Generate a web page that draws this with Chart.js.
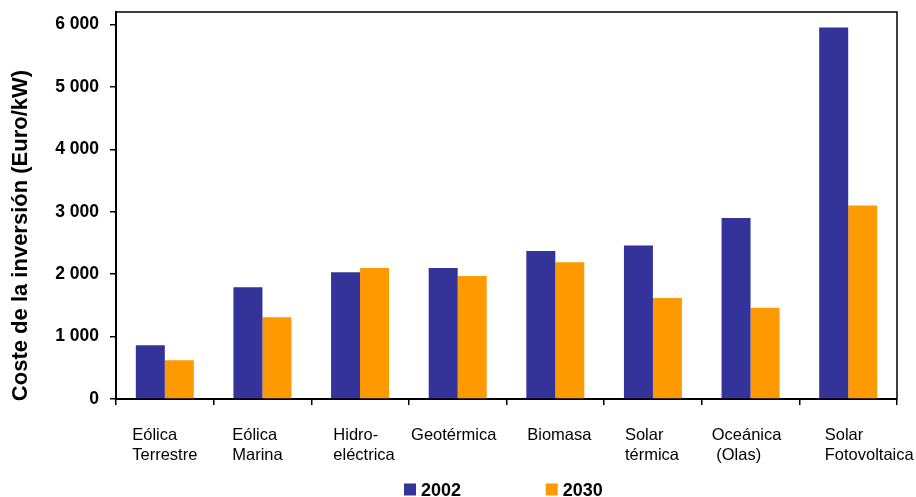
<!DOCTYPE html>
<html>
<head>
<meta charset="utf-8">
<script src="https://cdn.jsdelivr.net/npm/chart.js@4/dist/chart.umd.min.js"></script>
<style>
  html, body { margin: 0; padding: 0; background: #fff; }
  #wrap { width: 916px; height: 497px; }
</style>
</head>
<body>
<div id="wrap"><canvas id="c" width="916" height="497"></canvas></div>
<script>
// Categories (one array of text lines per technology)
const categories = [
  ['Eólica', 'Terrestre'],
  ['Eólica', 'Marina'],
  ['Hidro-', 'eléctrica'],
  ['Geotérmica'],
  ['Biomasa'],
  ['Solar', 'térmica'],
  ['Oceánica', ' (Olas)'],
  ['Solar', 'Fotovoltaica']
];

// Investment cost, Euro/kW
const values2002 = [860, 1790, 2030, 2100, 2370, 2460, 2900, 5950];
const values2030 = [620, 1310, 2100, 1970, 2190, 1620, 1460, 3100];

const seriesNames = ['2002', '2030'];
const yTickValues = [0, 1000, 2000, 3000, 4000, 5000, 6000];
const yTitle = 'Coste de la inversión (Euro/kW)';

const FONT = '"Liberation Sans", Arial, Helvetica, sans-serif';
const BLUE = '#333399';
const ORANGE = '#FF9900';

// horizontal nudge (px) of each category label block
const labelShift = [0, -5, 4, -4, 4, -1, -4, 21];

// thousands separated by a space: "6 000"
function fmt(v) {
  const s = String(v);
  return s.length > 3 ? s.slice(0, -3) + ' ' + s.slice(-3) : s;
}

const decorations = {
  id: 'decorations',
  afterDraw(chart) {
    const ctx = chart.ctx;
    const area = chart.chartArea;
    const xs = chart.scales.x;
    ctx.save();

    // top and right frame of the plot area
    ctx.strokeStyle = '#000';
    ctx.lineWidth = 1.5;
    ctx.beginPath();
    ctx.moveTo(area.left, area.top);
    ctx.lineTo(area.right, area.top);
    ctx.lineTo(area.right, area.bottom);
    ctx.stroke();

    // category labels: block centred on the category, lines left-aligned
    ctx.font = '16.5px ' + FONT;
    ctx.fillStyle = '#000';
    ctx.textAlign = 'left';
    ctx.textBaseline = 'alphabetic';
    chart.data.labels.forEach((lines, i) => {
      const cx = xs.getPixelForValue(i);
      const maxW = Math.max(...lines.map(l => ctx.measureText(l).width));
      const x0 = cx - maxW / 2 + (labelShift[i] || 0);
      lines.forEach((l, j) => ctx.fillText(l, x0, 439.5 + j * 20));
    });

    // y axis title
    ctx.font = 'bold 22px ' + FONT;
    ctx.textAlign = 'center';
    ctx.textBaseline = 'middle';
    ctx.translate(21, 235.5);
    ctx.rotate(-Math.PI / 2);
    ctx.fillText(yTitle, 0, 0);
    ctx.setTransform(1, 0, 0, 1, 0, 0);

    // legend
    ctx.font = 'bold 18px ' + FONT;
    ctx.textAlign = 'left';
    ctx.textBaseline = 'alphabetic';
    const startX = 404, pitch = 141.7;
    chart.data.datasets.forEach((ds, i) => {
      const bx = startX + i * pitch;
      ctx.fillStyle = ds.backgroundColor;
      ctx.fillRect(bx, 483.5, 12, 12);
      ctx.fillStyle = '#000';
      ctx.fillText(ds.label, bx + 17, 496);
    });
    ctx.restore();
  }
};

new Chart(document.getElementById('c'), {
  type: 'bar',
  data: {
    labels: categories,
    datasets: [
      { label: seriesNames[0], data: values2002, backgroundColor: BLUE },
      { label: seriesNames[1], data: values2030, backgroundColor: ORANGE }
    ]
  },
  options: {
    responsive: false,
    devicePixelRatio: 1,
    animation: false,
    events: [],
    layout: { padding: { top: 12, right: 19, left: 0, bottom: 0 } },
    datasets: {
      bar: { categoryPercentage: 0.594, barPercentage: 1.0, borderWidth: 0 }
    },
    plugins: {
      legend: { display: false },
      tooltip: { enabled: false },
      title: { display: false }
    },
    scales: {
      x: {
        type: 'category',
        offset: true,
        grid: {
          offset: true,
          drawOnChartArea: false,
          drawTicks: true,
          tickLength: 6,
          color: '#000',
          lineWidth: 1.5
        },
        border: { display: true, color: '#000', width: 2 },
        ticks: { display: false },
        afterFit(scale) {
          scale.height = 98;
          scale.paddingLeft = 0;
          scale.paddingRight = 0;
        }
      },
      y: {
        min: 0,
        max: 6200,
        afterBuildTicks(scale) {
          scale.ticks = yTickValues.map(v => ({ value: v }));
        },
        grid: {
          drawOnChartArea: false,
          drawTicks: true,
          tickLength: 6,
          color: '#000',
          lineWidth: 1.5
        },
        border: { display: true, color: '#000', width: 2 },
        ticks: {
          color: '#000',
          padding: 11,
          font: { family: FONT, size: 17.5, weight: 'bold' },
          callback: (v) => fmt(v)
        },
        afterFit(scale) {
          scale.width = 116;
          scale.paddingTop = 0;
          scale.paddingBottom = 0;
        }
      }
    }
  },
  plugins: [decorations]
});
</script>
</body>
</html>
